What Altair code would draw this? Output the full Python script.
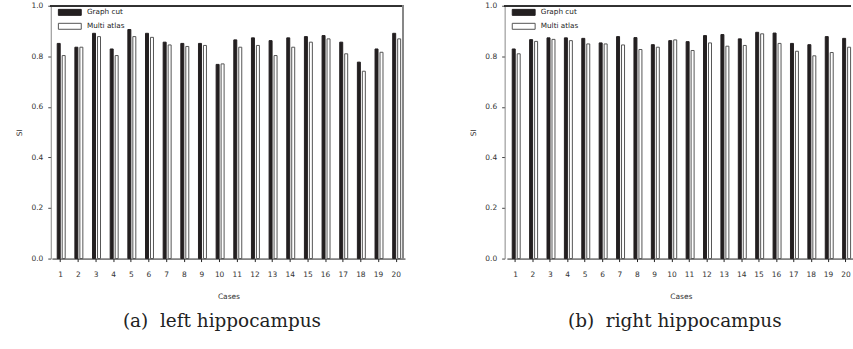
import altair as alt
import pandas as pd

# Similarity index (SI) per case for the two segmentation methods
cases = list(range(1, 21))
series_names = ["Graph cut", "Multi atlas"]

left_graph_cut = [0.851, 0.836, 0.891, 0.829, 0.906, 0.891, 0.856, 0.851, 0.851, 0.768,
                  0.865, 0.873, 0.862, 0.873, 0.878, 0.882, 0.856, 0.777, 0.829, 0.891]
left_multi_atlas = [0.803, 0.836, 0.878, 0.803, 0.878, 0.875, 0.845, 0.839, 0.843, 0.770,
                    0.836, 0.843, 0.803, 0.836, 0.856, 0.869, 0.810, 0.741, 0.816, 0.869]
right_graph_cut = [0.829, 0.866, 0.873, 0.873, 0.871, 0.853, 0.878, 0.874, 0.846, 0.862,
                   0.858, 0.882, 0.886, 0.869, 0.895, 0.892, 0.851, 0.846, 0.878, 0.871]
right_multi_atlas = [0.810, 0.859, 0.867, 0.862, 0.849, 0.849, 0.845, 0.827, 0.836, 0.865,
                     0.823, 0.853, 0.840, 0.843, 0.889, 0.851, 0.820, 0.802, 0.815, 0.836]
y_ticks = [0.0, 0.2, 0.4, 0.6, 0.8, 1.0]

FONT = "DejaVu Sans"
PLOT_H = 254
# wide, flat legend swatch
SWATCH = "M-3.83,-1H3.83V1H-3.83Z"


def panel(graph_cut, multi_atlas, caption, plot_w, band_range, show_right_border, caption_dx):
    df = pd.DataFrame({
        "case": cases * 2,
        "series": [series_names[0]] * len(cases) + [series_names[1]] * len(cases),
        "si": graph_cut + multi_atlas,
    })
    step = (band_range[1] - band_range[0]) / len(cases)
    half = step / 2

    bars = alt.Chart(df).mark_bar(size=3, strokeWidth=1).encode(
        x=alt.X("case:O", sort=cases,
                scale=alt.Scale(range=band_range, paddingInner=0, paddingOuter=0),
                axis=alt.Axis(title="Cases", labelAngle=0, tickSize=3, labelPadding=9,
                              titlePadding=15, domainColor="#222", tickColor="#222")),
        xOffset=alt.XOffset("series:N", sort=series_names,
                            scale=alt.Scale(range=[half - 4.5, half + 5.5],
                                            paddingInner=0, paddingOuter=0)),
        y=alt.Y("si:Q", scale=alt.Scale(domain=[0, 1], nice=False),
                axis=alt.Axis(title="SI", values=y_ticks, format=".1f", tickSize=3,
                              labelPadding=5, titlePadding=7, domainColor="#888",
                              tickColor="#444", grid=False)),
        fill=alt.Fill("series:N", sort=series_names,
                      scale=alt.Scale(domain=series_names, range=["#231f20", "#ffffff"]),
                      legend=alt.Legend(title=None, orient="none", legendX=15.5, legendY=3,
                                        symbolType=SWATCH, symbolSize=36,
                                        symbolStrokeWidth=1, labelOffset=13.5,
                                        rowPadding=3, padding=0)),
        stroke=alt.Stroke("series:N", sort=series_names,
                          scale=alt.Scale(domain=series_names, range=["#231f20", "#555555"]),
                          legend=None),
    )

    layers = [bars]
    top_border = alt.Chart(df).mark_rule(color="#333", strokeWidth=1).encode(
        x=alt.value(0), x2=alt.value(plot_w), y=alt.value(0))
    layers.append(top_border)
    if show_right_border:
        right_border = alt.Chart(df).mark_rule(color="#888", strokeWidth=1).encode(
            x=alt.value(plot_w), y=alt.value(0), y2=alt.value(PLOT_H))
        layers.append(right_border)

    return alt.layer(*layers).properties(
        width=plot_w, height=PLOT_H,
        title=alt.TitleParams(caption, orient="bottom", anchor="middle",
                              font="DejaVu Serif", fontSize=18.5, fontWeight="normal",
                              color="#222", offset=12, dx=caption_dx),
    )


left = panel(left_graph_cut, left_multi_atlas, "(a)\u00a0 left hippocampus",
             354, [1.13, 355.9], True, -5)
right = panel(right_graph_cut, right_multi_atlas, "(b)\u00a0 right hippocampus",
              348, [2.26, 351.7], False, -3)

chart = alt.hconcat(left, right, spacing=66).resolve_scale(
    fill="independent", stroke="independent",
).resolve_legend(
    fill="independent", stroke="independent",
).properties(
    padding={"left": 16, "top": 1, "right": 0, "bottom": 0},
).configure_view(stroke=None).configure_axis(
    labelFont=FONT, labelFontSize=7.5, labelColor="#333",
    titleFont=FONT, titleFontSize=7.5, titleFontWeight="normal", titleColor="#333",
).configure_legend(
    labelFont=FONT, labelFontSize=7.3, labelColor="#222",
)

chart.save("out.html", embed_options={"renderer": "svg", "actions": False})
